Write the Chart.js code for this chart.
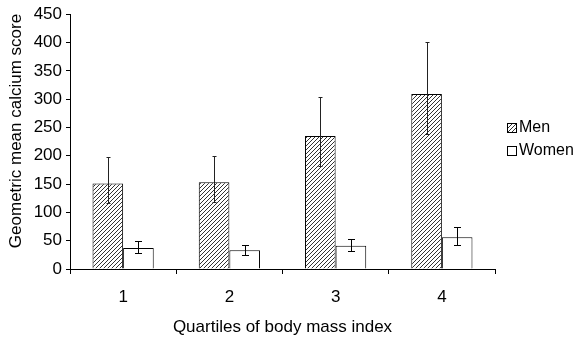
<!DOCTYPE html>
<html>
<head>
<meta charset="utf-8">
<script src="https://cdn.jsdelivr.net/npm/chart.js@4.4.0/dist/chart.umd.min.js"></script>
<style>
  html, body { margin: 0; padding: 0; background: #fff; }
  canvas { display: block; }
</style>
</head>
<body>
<canvas id="bmi-chart" width="582" height="344"></canvas>
<script>
// Calcium score by BMI quartile, geometric means with confidence limits
var quartiles = ['1', '2', '3', '4'];
var men = [151, 153, 235, 309];
var menLow = [116, 118, 182, 239];
var menHigh = [197, 199, 303, 401];
var women = [37, 33, 41, 56];
var womenLow = [28, 25, 32, 43];
var womenHigh = [49, 43, 53, 74];
var yTicks = [0, 50, 100, 150, 200, 250, 300, 350, 400, 450];

var FONT = 'Liberation Sans, Arial, sans-serif';

// diagonal hatch used for the men's bars
var makeHatch = () => {
    var c = document.createElement('canvas');
    c.width = 4;
    c.height = 4;
    var g = c.getContext('2d');
    g.fillStyle = '#fff';
    g.fillRect(0, 0, 4, 4);
    g.strokeStyle = '#333';
    g.lineWidth = 1;
    g.beginPath();
    g.moveTo(0, 4); g.lineTo(4, 0);
    g.moveTo(-1, 1); g.lineTo(1, -1);
    g.moveTo(3, 5); g.lineTo(5, 3);
    g.stroke();
    return g.createPattern(c, 'repeat');
};
var hatch = makeHatch();

// vertical error bars with small caps
var errorBars = {
    id: 'errorBars',
    afterDatasetsDraw: (chart) => {
        var ctx = chart.ctx;
        var y = chart.scales.y;
        var sets = [
            { lo: menLow, hi: menHigh, cap: 2, color: '#222' },
            { lo: womenLow, hi: womenHigh, cap: 3.5, color: '#000' }
        ];
        ctx.save();
        ctx.lineWidth = 1;
        sets.forEach((s, d) => {
            var meta = chart.getDatasetMeta(d);
            meta.data.forEach((bar, i) => {
                var x = Math.round(bar.x) + 0.5;
                var yl = Math.round(y.getPixelForValue(s.lo[i])) + 0.5;
                var yh = Math.round(y.getPixelForValue(s.hi[i])) + 0.5;
                ctx.strokeStyle = s.color;
                ctx.beginPath();
                ctx.moveTo(x, yl); ctx.lineTo(x, yh);
                ctx.moveTo(x - s.cap, yh); ctx.lineTo(x + s.cap, yh);
                ctx.moveTo(x - s.cap, yl); ctx.lineTo(x + s.cap, yl);
                ctx.stroke();
            });
        });
        ctx.restore();
    }
};

// y title and legend on the right
var extras = {
    id: 'extras',
    afterDraw: (chart) => {
        var ctx = chart.ctx;
        ctx.save();
        ctx.fillStyle = '#000';
        ctx.font = '17px ' + FONT;
        ctx.textAlign = 'center';
        ctx.textBaseline = 'middle';
        ctx.translate(16, 131);
        ctx.rotate(-Math.PI / 2);
        ctx.fillText('Geometric mean calcium score', 0, 0);
        ctx.restore();

        var items = [
            { label: 'Men', fill: hatch, y: 128 },
            { label: 'Women', fill: '#fff', y: 151 }
        ];
        ctx.save();
        ctx.font = '16px ' + FONT;
        ctx.textBaseline = 'middle';
        ctx.textAlign = 'left';
        items.forEach((it) => {
            ctx.fillStyle = it.fill;
            ctx.fillRect(507, it.y - 5, 10, 10);
            ctx.strokeStyle = '#000';
            ctx.lineWidth = 1;
            ctx.strokeRect(507.5, it.y - 4.5, 9, 9);
            ctx.fillStyle = '#000';
            ctx.fillText(it.label, 519, it.y);
        });
        ctx.restore();
    }
};

var ctx = document.getElementById('bmi-chart').getContext('2d');
var chart = new Chart(ctx, {
    type: 'bar',
    data: {
        labels: quartiles,
        datasets: [
            {
                label: 'Men',
                data: men,
                backgroundColor: hatch,
                borderColor: '#000',
                borderWidth: 1,
                borderSkipped: 'start'
            },
            {
                label: 'Women',
                data: women,
                backgroundColor: '#fff',
                borderColor: '#000',
                borderWidth: 1,
                borderSkipped: 'start'
            }
        ]
    },
    options: {
        responsive: false,
        animation: false,
        devicePixelRatio: 1,
        layout: { padding: { left: 0, top: 13, right: 87, bottom: 0 } },
        datasets: { bar: { categoryPercentage: 0.576, barPercentage: 1.0 } },
        plugins: {
            legend: { display: false },
            tooltip: { enabled: false }
        },
        scales: {
            x: {
                grid: { display: true, drawOnChartArea: false, offset: true, color: '#000', tickLength: 5 },
                border: { color: '#000', width: 1 },
                ticks: { color: '#000', font: { family: FONT, size: 17 }, padding: 13 },
                title: {
                    display: true,
                    text: 'Quartiles of body mass index',
                    color: '#000',
                    font: { family: FONT, size: 17 },
                    padding: { top: 0, bottom: 6 }
                },
                afterFit: (scale) => { scale.height = 75; }
            },
            y: {
                min: 0,
                max: 450,
                afterBuildTicks: (scale) => { scale.ticks = yTicks.map((v) => ({ value: v })); },
                grid: { display: true, drawOnChartArea: false, color: '#000', tickLength: 4 },
                border: { color: '#000', width: 1 },
                ticks: { color: '#000', font: { family: FONT, size: 17 }, padding: 4 },
                afterFit: (scale) => { scale.width = 70; }
            }
        }
    },
    plugins: [errorBars, extras]
});
</script>
</body>
</html>
